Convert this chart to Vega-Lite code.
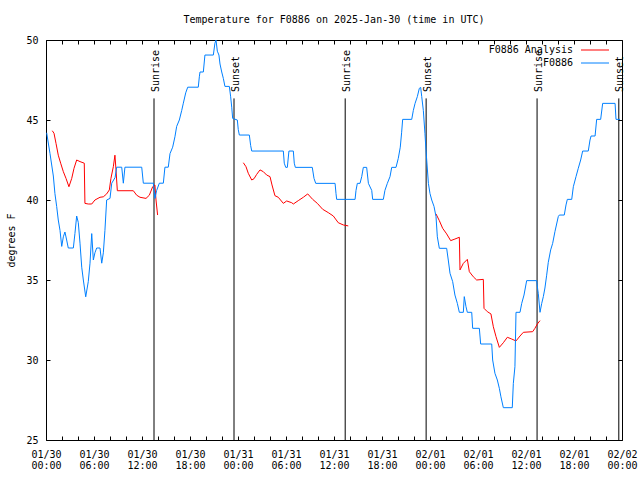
{
 "$schema": "https://vega.github.io/schema/vega-lite/v6.json",
 "width": 576,
 "height": 400,
 "autosize": {"type": "none"},
 "padding": {"left": 46, "top": 40, "right": 18, "bottom": 40},
 "background": "white",
 "title": {"text": "Temperature for F0886 on 2025-Jan-30 (time in UTC)", "font": "DejaVu Sans Mono", "fontSize": 10, "fontWeight": "normal", "color": "black", "anchor": "middle", "baseline": "bottom", "offset": 0},
 "config": {
  "view": {"stroke": "black", "strokeWidth": 1},
  "font": "DejaVu Sans Mono",
  "axis": {"labelFont": "DejaVu Sans Mono", "labelFontSize": 10, "labelColor": "black", "titleFont": "DejaVu Sans Mono", "titleFontSize": 10, "titleFontWeight": "normal", "titleColor": "black", "tickColor": "black", "grid": false, "domain": false}
 },
 "datasets": {
  "sun": [
   {"time": "2025-01-30T13:30:00Z", "event": "Sunrise"},
   {"time": "2025-01-30T23:30:00Z", "event": "Sunset"},
   {"time": "2025-01-31T13:24:00Z", "event": "Sunrise"},
   {"time": "2025-01-31T23:31:00Z", "event": "Sunset"},
   {"time": "2025-02-01T13:23:00Z", "event": "Sunrise"},
   {"time": "2025-02-01T23:36:00Z", "event": "Sunset"}
  ],
  "temps": [
   {"series": "F0886 Analysis", "seg": "a1", "time": "2025-01-30T00:47:00Z", "temp": 44.33},
   {"series": "F0886 Analysis", "seg": "a1", "time": "2025-01-30T01:00:00Z", "temp": 44.17},
   {"series": "F0886 Analysis", "seg": "a1", "time": "2025-01-30T01:15:00Z", "temp": 43.54},
   {"series": "F0886 Analysis", "seg": "a1", "time": "2025-01-30T01:32:00Z", "temp": 42.8},
   {"series": "F0886 Analysis", "seg": "a1", "time": "2025-01-30T01:50:00Z", "temp": 42.3},
   {"series": "F0886 Analysis", "seg": "a1", "time": "2025-01-30T02:10:00Z", "temp": 41.77},
   {"series": "F0886 Analysis", "seg": "a1", "time": "2025-01-30T02:30:00Z", "temp": 41.35},
   {"series": "F0886 Analysis", "seg": "a1", "time": "2025-01-30T02:52:00Z", "temp": 40.83},
   {"series": "F0886 Analysis", "seg": "a1", "time": "2025-01-30T03:13:00Z", "temp": 41.35},
   {"series": "F0886 Analysis", "seg": "a1", "time": "2025-01-30T03:30:00Z", "temp": 41.98},
   {"series": "F0886 Analysis", "seg": "a1", "time": "2025-01-30T03:50:00Z", "temp": 42.5},
   {"series": "F0886 Analysis", "seg": "a1", "time": "2025-01-30T04:15:00Z", "temp": 42.4},
   {"series": "F0886 Analysis", "seg": "a1", "time": "2025-01-30T04:47:00Z", "temp": 42.3},
   {"series": "F0886 Analysis", "seg": "a1", "time": "2025-01-30T04:52:00Z", "temp": 39.79},
   {"series": "F0886 Analysis", "seg": "a1", "time": "2025-01-30T05:17:00Z", "temp": 39.75},
   {"series": "F0886 Analysis", "seg": "a1", "time": "2025-01-30T05:43:00Z", "temp": 39.75},
   {"series": "F0886 Analysis", "seg": "a1", "time": "2025-01-30T06:07:00Z", "temp": 40.0},
   {"series": "F0886 Analysis", "seg": "a1", "time": "2025-01-30T06:45:00Z", "temp": 40.17},
   {"series": "F0886 Analysis", "seg": "a1", "time": "2025-01-30T07:10:00Z", "temp": 40.2},
   {"series": "F0886 Analysis", "seg": "a1", "time": "2025-01-30T07:35:00Z", "temp": 40.38},
   {"series": "F0886 Analysis", "seg": "a1", "time": "2025-01-30T07:55:00Z", "temp": 40.63},
   {"series": "F0886 Analysis", "seg": "a1", "time": "2025-01-30T08:07:00Z", "temp": 41.35},
   {"series": "F0886 Analysis", "seg": "a1", "time": "2025-01-30T08:25:00Z", "temp": 42.08},
   {"series": "F0886 Analysis", "seg": "a1", "time": "2025-01-30T08:37:00Z", "temp": 42.8},
   {"series": "F0886 Analysis", "seg": "a1", "time": "2025-01-30T08:45:00Z", "temp": 41.88},
   {"series": "F0886 Analysis", "seg": "a1", "time": "2025-01-30T08:55:00Z", "temp": 40.58},
   {"series": "F0886 Analysis", "seg": "a1", "time": "2025-01-30T10:55:00Z", "temp": 40.58},
   {"series": "F0886 Analysis", "seg": "a1", "time": "2025-01-30T11:20:00Z", "temp": 40.3},
   {"series": "F0886 Analysis", "seg": "a1", "time": "2025-01-30T11:45:00Z", "temp": 40.17},
   {"series": "F0886 Analysis", "seg": "a1", "time": "2025-01-30T12:30:00Z", "temp": 40.1},
   {"series": "F0886 Analysis", "seg": "a1", "time": "2025-01-30T12:55:00Z", "temp": 40.3},
   {"series": "F0886 Analysis", "seg": "a1", "time": "2025-01-30T13:20:00Z", "temp": 40.83},
   {"series": "F0886 Analysis", "seg": "a1", "time": "2025-01-30T13:37:00Z", "temp": 40.94},
   {"series": "F0886 Analysis", "seg": "a1", "time": "2025-01-30T13:45:00Z", "temp": 40.0},
   {"series": "F0886 Analysis", "seg": "a1", "time": "2025-01-30T13:57:00Z", "temp": 39.06},
   {"series": "F0886 Analysis", "seg": "a2", "time": "2025-01-31T00:40:00Z", "temp": 42.33},
   {"series": "F0886 Analysis", "seg": "a2", "time": "2025-01-31T01:00:00Z", "temp": 42.08},
   {"series": "F0886 Analysis", "seg": "a2", "time": "2025-01-31T01:17:00Z", "temp": 41.67},
   {"series": "F0886 Analysis", "seg": "a2", "time": "2025-01-31T01:43:00Z", "temp": 41.25},
   {"series": "F0886 Analysis", "seg": "a2", "time": "2025-01-31T02:00:00Z", "temp": 41.33},
   {"series": "F0886 Analysis", "seg": "a2", "time": "2025-01-31T02:20:00Z", "temp": 41.6},
   {"series": "F0886 Analysis", "seg": "a2", "time": "2025-01-31T02:45:00Z", "temp": 41.88},
   {"series": "F0886 Analysis", "seg": "a2", "time": "2025-01-31T03:10:00Z", "temp": 41.77},
   {"series": "F0886 Analysis", "seg": "a2", "time": "2025-01-31T03:35:00Z", "temp": 41.56},
   {"series": "F0886 Analysis", "seg": "a2", "time": "2025-01-31T04:00:00Z", "temp": 41.46},
   {"series": "F0886 Analysis", "seg": "a2", "time": "2025-01-31T04:15:00Z", "temp": 40.94},
   {"series": "F0886 Analysis", "seg": "a2", "time": "2025-01-31T04:37:00Z", "temp": 40.27},
   {"series": "F0886 Analysis", "seg": "a2", "time": "2025-01-31T05:02:00Z", "temp": 40.17},
   {"series": "F0886 Analysis", "seg": "a2", "time": "2025-01-31T05:40:00Z", "temp": 39.79},
   {"series": "F0886 Analysis", "seg": "a2", "time": "2025-01-31T06:05:00Z", "temp": 39.94},
   {"series": "F0886 Analysis", "seg": "a2", "time": "2025-01-31T06:43:00Z", "temp": 39.83},
   {"series": "F0886 Analysis", "seg": "a2", "time": "2025-01-31T06:55:00Z", "temp": 39.75},
   {"series": "F0886 Analysis", "seg": "a2", "time": "2025-01-31T07:32:00Z", "temp": 39.96},
   {"series": "F0886 Analysis", "seg": "a2", "time": "2025-01-31T08:10:00Z", "temp": 40.17},
   {"series": "F0886 Analysis", "seg": "a2", "time": "2025-01-31T08:43:00Z", "temp": 40.38},
   {"series": "F0886 Analysis", "seg": "a2", "time": "2025-01-31T09:20:00Z", "temp": 40.04},
   {"series": "F0886 Analysis", "seg": "a2", "time": "2025-01-31T09:55:00Z", "temp": 39.79},
   {"series": "F0886 Analysis", "seg": "a2", "time": "2025-01-31T10:35:00Z", "temp": 39.42},
   {"series": "F0886 Analysis", "seg": "a2", "time": "2025-01-31T11:17:00Z", "temp": 39.21},
   {"series": "F0886 Analysis", "seg": "a2", "time": "2025-01-31T11:55:00Z", "temp": 39.0},
   {"series": "F0886 Analysis", "seg": "a2", "time": "2025-01-31T12:32:00Z", "temp": 38.58},
   {"series": "F0886 Analysis", "seg": "a2", "time": "2025-01-31T13:10:00Z", "temp": 38.44},
   {"series": "F0886 Analysis", "seg": "a2", "time": "2025-01-31T13:47:00Z", "temp": 38.38},
   {"series": "F0886 Analysis", "seg": "a3", "time": "2025-02-01T00:45:00Z", "temp": 39.13},
   {"series": "F0886 Analysis", "seg": "a3", "time": "2025-02-01T01:10:00Z", "temp": 38.71},
   {"series": "F0886 Analysis", "seg": "a3", "time": "2025-02-01T01:35:00Z", "temp": 38.23},
   {"series": "F0886 Analysis", "seg": "a3", "time": "2025-02-01T02:05:00Z", "temp": 37.88},
   {"series": "F0886 Analysis", "seg": "a3", "time": "2025-02-01T02:35:00Z", "temp": 37.46},
   {"series": "F0886 Analysis", "seg": "a3", "time": "2025-02-01T03:07:00Z", "temp": 37.56},
   {"series": "F0886 Analysis", "seg": "a3", "time": "2025-02-01T03:40:00Z", "temp": 37.67},
   {"series": "F0886 Analysis", "seg": "a3", "time": "2025-02-01T03:45:00Z", "temp": 35.63},
   {"series": "F0886 Analysis", "seg": "a3", "time": "2025-02-01T04:10:00Z", "temp": 36.04},
   {"series": "F0886 Analysis", "seg": "a3", "time": "2025-02-01T04:40:00Z", "temp": 36.29},
   {"series": "F0886 Analysis", "seg": "a3", "time": "2025-02-01T04:55:00Z", "temp": 35.52},
   {"series": "F0886 Analysis", "seg": "a3", "time": "2025-02-01T05:25:00Z", "temp": 35.2},
   {"series": "F0886 Analysis", "seg": "a3", "time": "2025-02-01T05:50:00Z", "temp": 35.0},
   {"series": "F0886 Analysis", "seg": "a3", "time": "2025-02-01T06:40:00Z", "temp": 35.04},
   {"series": "F0886 Analysis", "seg": "a3", "time": "2025-02-01T06:45:00Z", "temp": 33.23},
   {"series": "F0886 Analysis", "seg": "a3", "time": "2025-02-01T07:10:00Z", "temp": 33.02},
   {"series": "F0886 Analysis", "seg": "a3", "time": "2025-02-01T07:37:00Z", "temp": 32.88},
   {"series": "F0886 Analysis", "seg": "a3", "time": "2025-02-01T07:55:00Z", "temp": 32.08},
   {"series": "F0886 Analysis", "seg": "a3", "time": "2025-02-01T08:15:00Z", "temp": 31.46},
   {"series": "F0886 Analysis", "seg": "a3", "time": "2025-02-01T08:40:00Z", "temp": 30.79},
   {"series": "F0886 Analysis", "seg": "a3", "time": "2025-02-01T09:10:00Z", "temp": 31.08},
   {"series": "F0886 Analysis", "seg": "a3", "time": "2025-02-01T09:40:00Z", "temp": 31.42},
   {"series": "F0886 Analysis", "seg": "a3", "time": "2025-02-01T10:13:00Z", "temp": 31.31},
   {"series": "F0886 Analysis", "seg": "a3", "time": "2025-02-01T10:45:00Z", "temp": 31.19},
   {"series": "F0886 Analysis", "seg": "a3", "time": "2025-02-01T11:15:00Z", "temp": 31.5},
   {"series": "F0886 Analysis", "seg": "a3", "time": "2025-02-01T11:40:00Z", "temp": 31.73},
   {"series": "F0886 Analysis", "seg": "a3", "time": "2025-02-01T12:50:00Z", "temp": 31.77},
   {"series": "F0886 Analysis", "seg": "a3", "time": "2025-02-01T13:07:00Z", "temp": 31.98},
   {"series": "F0886 Analysis", "seg": "a3", "time": "2025-02-01T13:25:00Z", "temp": 32.25},
   {"series": "F0886 Analysis", "seg": "a3", "time": "2025-02-01T13:45:00Z", "temp": 32.46},
   {"series": "F0886", "seg": "b", "time": "2025-01-30T00:05:00Z", "temp": 44.2},
   {"series": "F0886", "seg": "b", "time": "2025-01-30T00:30:00Z", "temp": 42.9},
   {"series": "F0886", "seg": "b", "time": "2025-01-30T00:55:00Z", "temp": 41.5},
   {"series": "F0886", "seg": "b", "time": "2025-01-30T01:07:00Z", "temp": 40.4},
   {"series": "F0886", "seg": "b", "time": "2025-01-30T01:20:00Z", "temp": 39.6},
   {"series": "F0886", "seg": "b", "time": "2025-01-30T01:32:00Z", "temp": 38.75},
   {"series": "F0886", "seg": "b", "time": "2025-01-30T01:45:00Z", "temp": 38.1},
   {"series": "F0886", "seg": "b", "time": "2025-01-30T01:58:00Z", "temp": 37.1},
   {"series": "F0886", "seg": "b", "time": "2025-01-30T02:10:00Z", "temp": 37.7},
   {"series": "F0886", "seg": "b", "time": "2025-01-30T02:22:00Z", "temp": 38.0},
   {"series": "F0886", "seg": "b", "time": "2025-01-30T02:35:00Z", "temp": 37.5},
   {"series": "F0886", "seg": "b", "time": "2025-01-30T02:47:00Z", "temp": 37.0},
   {"series": "F0886", "seg": "b", "time": "2025-01-30T03:25:00Z", "temp": 37.0},
   {"series": "F0886", "seg": "b", "time": "2025-01-30T03:37:00Z", "temp": 37.9},
   {"series": "F0886", "seg": "b", "time": "2025-01-30T03:50:00Z", "temp": 39.0},
   {"series": "F0886", "seg": "b", "time": "2025-01-30T04:02:00Z", "temp": 38.6},
   {"series": "F0886", "seg": "b", "time": "2025-01-30T04:15:00Z", "temp": 37.3},
   {"series": "F0886", "seg": "b", "time": "2025-01-30T04:28:00Z", "temp": 35.8},
   {"series": "F0886", "seg": "b", "time": "2025-01-30T04:40:00Z", "temp": 35.0},
   {"series": "F0886", "seg": "b", "time": "2025-01-30T04:58:00Z", "temp": 33.95},
   {"series": "F0886", "seg": "b", "time": "2025-01-30T05:17:00Z", "temp": 34.9},
   {"series": "F0886", "seg": "b", "time": "2025-01-30T05:30:00Z", "temp": 36.05},
   {"series": "F0886", "seg": "b", "time": "2025-01-30T05:43:00Z", "temp": 37.9},
   {"series": "F0886", "seg": "b", "time": "2025-01-30T05:55:00Z", "temp": 36.25},
   {"series": "F0886", "seg": "b", "time": "2025-01-30T06:07:00Z", "temp": 36.7},
   {"series": "F0886", "seg": "b", "time": "2025-01-30T06:20:00Z", "temp": 37.0},
   {"series": "F0886", "seg": "b", "time": "2025-01-30T06:45:00Z", "temp": 37.0},
   {"series": "F0886", "seg": "b", "time": "2025-01-30T06:58:00Z", "temp": 36.05},
   {"series": "F0886", "seg": "b", "time": "2025-01-30T07:10:00Z", "temp": 36.7},
   {"series": "F0886", "seg": "b", "time": "2025-01-30T07:22:00Z", "temp": 38.1},
   {"series": "F0886", "seg": "b", "time": "2025-01-30T07:35:00Z", "temp": 40.0},
   {"series": "F0886", "seg": "b", "time": "2025-01-30T08:00:00Z", "temp": 40.1},
   {"series": "F0886", "seg": "b", "time": "2025-01-30T08:13:00Z", "temp": 41.05},
   {"series": "F0886", "seg": "b", "time": "2025-01-30T08:38:00Z", "temp": 41.4},
   {"series": "F0886", "seg": "b", "time": "2025-01-30T08:50:00Z", "temp": 42.05},
   {"series": "F0886", "seg": "b", "time": "2025-01-30T09:28:00Z", "temp": 42.05},
   {"series": "F0886", "seg": "b", "time": "2025-01-30T09:40:00Z", "temp": 41.05},
   {"series": "F0886", "seg": "b", "time": "2025-01-30T09:52:00Z", "temp": 42.05},
   {"series": "F0886", "seg": "b", "time": "2025-01-30T11:58:00Z", "temp": 42.05},
   {"series": "F0886", "seg": "b", "time": "2025-01-30T12:10:00Z", "temp": 41.05},
   {"series": "F0886", "seg": "b", "time": "2025-01-30T13:25:00Z", "temp": 41.05},
   {"series": "F0886", "seg": "b", "time": "2025-01-30T13:37:00Z", "temp": 40.1},
   {"series": "F0886", "seg": "b", "time": "2025-01-30T13:50:00Z", "temp": 40.6},
   {"series": "F0886", "seg": "b", "time": "2025-01-30T14:10:00Z", "temp": 41.05},
   {"series": "F0886", "seg": "b", "time": "2025-01-30T14:40:00Z", "temp": 41.05},
   {"series": "F0886", "seg": "b", "time": "2025-01-30T14:52:00Z", "temp": 42.05},
   {"series": "F0886", "seg": "b", "time": "2025-01-30T15:17:00Z", "temp": 42.05},
   {"series": "F0886", "seg": "b", "time": "2025-01-30T15:30:00Z", "temp": 42.9},
   {"series": "F0886", "seg": "b", "time": "2025-01-30T15:50:00Z", "temp": 43.3},
   {"series": "F0886", "seg": "b", "time": "2025-01-30T16:07:00Z", "temp": 43.95},
   {"series": "F0886", "seg": "b", "time": "2025-01-30T16:20:00Z", "temp": 44.6},
   {"series": "F0886", "seg": "b", "time": "2025-01-30T16:40:00Z", "temp": 45.0},
   {"series": "F0886", "seg": "b", "time": "2025-01-30T16:58:00Z", "temp": 45.6},
   {"series": "F0886", "seg": "b", "time": "2025-01-30T17:10:00Z", "temp": 46.05},
   {"series": "F0886", "seg": "b", "time": "2025-01-30T17:28:00Z", "temp": 46.7},
   {"series": "F0886", "seg": "b", "time": "2025-01-30T17:43:00Z", "temp": 47.05},
   {"series": "F0886", "seg": "b", "time": "2025-01-30T19:02:00Z", "temp": 47.05},
   {"series": "F0886", "seg": "b", "time": "2025-01-30T19:10:00Z", "temp": 47.7},
   {"series": "F0886", "seg": "b", "time": "2025-01-30T19:15:00Z", "temp": 48.0},
   {"series": "F0886", "seg": "b", "time": "2025-01-30T19:40:00Z", "temp": 48.0},
   {"series": "F0886", "seg": "b", "time": "2025-01-30T19:52:00Z", "temp": 49.06},
   {"series": "F0886", "seg": "b", "time": "2025-01-30T20:55:00Z", "temp": 49.06},
   {"series": "F0886", "seg": "b", "time": "2025-01-30T21:07:00Z", "temp": 49.8},
   {"series": "F0886", "seg": "b", "time": "2025-01-30T21:15:00Z", "temp": 50.0},
   {"series": "F0886", "seg": "b", "time": "2025-01-30T21:25:00Z", "temp": 49.3},
   {"series": "F0886", "seg": "b", "time": "2025-01-30T21:37:00Z", "temp": 49.06},
   {"series": "F0886", "seg": "b", "time": "2025-01-30T21:45:00Z", "temp": 48.5},
   {"series": "F0886", "seg": "b", "time": "2025-01-30T21:58:00Z", "temp": 48.0},
   {"series": "F0886", "seg": "b", "time": "2025-01-30T22:10:00Z", "temp": 47.6},
   {"series": "F0886", "seg": "b", "time": "2025-01-30T22:22:00Z", "temp": 47.1},
   {"series": "F0886", "seg": "b", "time": "2025-01-30T22:55:00Z", "temp": 47.1},
   {"series": "F0886", "seg": "b", "time": "2025-01-30T23:05:00Z", "temp": 46.45},
   {"series": "F0886", "seg": "b", "time": "2025-01-30T23:13:00Z", "temp": 45.8},
   {"series": "F0886", "seg": "b", "time": "2025-01-30T23:20:00Z", "temp": 45.1},
   {"series": "F0886", "seg": "b", "time": "2025-01-30T23:55:00Z", "temp": 45.0},
   {"series": "F0886", "seg": "b", "time": "2025-01-31T00:02:00Z", "temp": 44.4},
   {"series": "F0886", "seg": "b", "time": "2025-01-31T00:10:00Z", "temp": 44.06},
   {"series": "F0886", "seg": "b", "time": "2025-01-31T01:25:00Z", "temp": 44.06},
   {"series": "F0886", "seg": "b", "time": "2025-01-31T01:35:00Z", "temp": 43.4},
   {"series": "F0886", "seg": "b", "time": "2025-01-31T01:43:00Z", "temp": 43.06},
   {"series": "F0886", "seg": "b", "time": "2025-01-31T05:40:00Z", "temp": 43.06},
   {"series": "F0886", "seg": "b", "time": "2025-01-31T05:47:00Z", "temp": 42.3},
   {"series": "F0886", "seg": "b", "time": "2025-01-31T05:58:00Z", "temp": 42.04},
   {"series": "F0886", "seg": "b", "time": "2025-01-31T06:10:00Z", "temp": 42.04},
   {"series": "F0886", "seg": "b", "time": "2025-01-31T06:22:00Z", "temp": 43.06},
   {"series": "F0886", "seg": "b", "time": "2025-01-31T06:55:00Z", "temp": 43.06},
   {"series": "F0886", "seg": "b", "time": "2025-01-31T07:02:00Z", "temp": 42.3},
   {"series": "F0886", "seg": "b", "time": "2025-01-31T07:10:00Z", "temp": 42.04},
   {"series": "F0886", "seg": "b", "time": "2025-01-31T09:17:00Z", "temp": 42.04},
   {"series": "F0886", "seg": "b", "time": "2025-01-31T09:30:00Z", "temp": 41.35},
   {"series": "F0886", "seg": "b", "time": "2025-01-31T09:43:00Z", "temp": 41.04},
   {"series": "F0886", "seg": "b", "time": "2025-01-31T12:08:00Z", "temp": 41.04},
   {"series": "F0886", "seg": "b", "time": "2025-01-31T12:15:00Z", "temp": 40.4},
   {"series": "F0886", "seg": "b", "time": "2025-01-31T12:20:00Z", "temp": 40.04},
   {"series": "F0886", "seg": "b", "time": "2025-01-31T14:38:00Z", "temp": 40.04},
   {"series": "F0886", "seg": "b", "time": "2025-01-31T14:45:00Z", "temp": 40.6},
   {"series": "F0886", "seg": "b", "time": "2025-01-31T14:55:00Z", "temp": 41.04},
   {"series": "F0886", "seg": "b", "time": "2025-01-31T15:15:00Z", "temp": 41.04},
   {"series": "F0886", "seg": "b", "time": "2025-01-31T15:28:00Z", "temp": 41.46},
   {"series": "F0886", "seg": "b", "time": "2025-01-31T15:40:00Z", "temp": 42.04},
   {"series": "F0886", "seg": "b", "time": "2025-01-31T16:05:00Z", "temp": 42.04},
   {"series": "F0886", "seg": "b", "time": "2025-01-31T16:18:00Z", "temp": 41.04},
   {"series": "F0886", "seg": "b", "time": "2025-01-31T16:43:00Z", "temp": 40.6},
   {"series": "F0886", "seg": "b", "time": "2025-01-31T16:50:00Z", "temp": 40.04},
   {"series": "F0886", "seg": "b", "time": "2025-01-31T18:10:00Z", "temp": 40.04},
   {"series": "F0886", "seg": "b", "time": "2025-01-31T18:22:00Z", "temp": 40.6},
   {"series": "F0886", "seg": "b", "time": "2025-01-31T18:40:00Z", "temp": 41.04},
   {"series": "F0886", "seg": "b", "time": "2025-01-31T19:00:00Z", "temp": 41.46},
   {"series": "F0886", "seg": "b", "time": "2025-01-31T19:13:00Z", "temp": 42.04},
   {"series": "F0886", "seg": "b", "time": "2025-01-31T19:45:00Z", "temp": 42.04},
   {"series": "F0886", "seg": "b", "time": "2025-01-31T20:02:00Z", "temp": 42.6},
   {"series": "F0886", "seg": "b", "time": "2025-01-31T20:17:00Z", "temp": 43.3},
   {"series": "F0886", "seg": "b", "time": "2025-01-31T20:27:00Z", "temp": 44.2},
   {"series": "F0886", "seg": "b", "time": "2025-01-31T20:35:00Z", "temp": 45.04},
   {"series": "F0886", "seg": "b", "time": "2025-01-31T21:43:00Z", "temp": 45.04},
   {"series": "F0886", "seg": "b", "time": "2025-01-31T21:55:00Z", "temp": 45.6},
   {"series": "F0886", "seg": "b", "time": "2025-01-31T22:08:00Z", "temp": 46.04},
   {"series": "F0886", "seg": "b", "time": "2025-01-31T22:25:00Z", "temp": 46.46},
   {"series": "F0886", "seg": "b", "time": "2025-01-31T22:40:00Z", "temp": 46.98},
   {"series": "F0886", "seg": "b", "time": "2025-01-31T22:50:00Z", "temp": 47.04},
   {"series": "F0886", "seg": "b", "time": "2025-01-31T22:58:00Z", "temp": 46.46},
   {"series": "F0886", "seg": "b", "time": "2025-01-31T23:10:00Z", "temp": 45.6},
   {"series": "F0886", "seg": "b", "time": "2025-01-31T23:22:00Z", "temp": 44.17},
   {"series": "F0886", "seg": "b", "time": "2025-01-31T23:30:00Z", "temp": 43.1},
   {"series": "F0886", "seg": "b", "time": "2025-01-31T23:48:00Z", "temp": 41.04},
   {"series": "F0886", "seg": "b", "time": "2025-02-01T00:00:00Z", "temp": 40.4},
   {"series": "F0886", "seg": "b", "time": "2025-02-01T00:13:00Z", "temp": 40.0},
   {"series": "F0886", "seg": "b", "time": "2025-02-01T00:30:00Z", "temp": 39.6},
   {"series": "F0886", "seg": "b", "time": "2025-02-01T00:45:00Z", "temp": 38.96},
   {"series": "F0886", "seg": "b", "time": "2025-02-01T00:55:00Z", "temp": 37.7},
   {"series": "F0886", "seg": "b", "time": "2025-02-01T01:10:00Z", "temp": 36.98},
   {"series": "F0886", "seg": "b", "time": "2025-02-01T02:05:00Z", "temp": 36.98},
   {"series": "F0886", "seg": "b", "time": "2025-02-01T02:17:00Z", "temp": 36.25},
   {"series": "F0886", "seg": "b", "time": "2025-02-01T02:30:00Z", "temp": 35.42},
   {"series": "F0886", "seg": "b", "time": "2025-02-01T02:50:00Z", "temp": 34.9},
   {"series": "F0886", "seg": "b", "time": "2025-02-01T03:07:00Z", "temp": 34.06},
   {"series": "F0886", "seg": "b", "time": "2025-02-01T03:25:00Z", "temp": 33.54},
   {"series": "F0886", "seg": "b", "time": "2025-02-01T03:40:00Z", "temp": 32.98},
   {"series": "F0886", "seg": "b", "time": "2025-02-01T04:10:00Z", "temp": 32.98},
   {"series": "F0886", "seg": "b", "time": "2025-02-01T04:17:00Z", "temp": 33.96},
   {"series": "F0886", "seg": "b", "time": "2025-02-01T04:30:00Z", "temp": 33.33},
   {"series": "F0886", "seg": "b", "time": "2025-02-01T04:40:00Z", "temp": 32.98},
   {"series": "F0886", "seg": "b", "time": "2025-02-01T05:13:00Z", "temp": 32.98},
   {"series": "F0886", "seg": "b", "time": "2025-02-01T05:20:00Z", "temp": 31.98},
   {"series": "F0886", "seg": "b", "time": "2025-02-01T06:10:00Z", "temp": 31.98},
   {"series": "F0886", "seg": "b", "time": "2025-02-01T06:20:00Z", "temp": 31.0},
   {"series": "F0886", "seg": "b", "time": "2025-02-01T07:43:00Z", "temp": 31.0},
   {"series": "F0886", "seg": "b", "time": "2025-02-01T07:50:00Z", "temp": 30.0},
   {"series": "F0886", "seg": "b", "time": "2025-02-01T08:07:00Z", "temp": 29.17},
   {"series": "F0886", "seg": "b", "time": "2025-02-01T08:25:00Z", "temp": 28.75},
   {"series": "F0886", "seg": "b", "time": "2025-02-01T08:40:00Z", "temp": 28.23},
   {"series": "F0886", "seg": "b", "time": "2025-02-01T08:52:00Z", "temp": 27.7},
   {"series": "F0886", "seg": "b", "time": "2025-02-01T09:10:00Z", "temp": 27.02},
   {"series": "F0886", "seg": "b", "time": "2025-02-01T10:17:00Z", "temp": 27.02},
   {"series": "F0886", "seg": "b", "time": "2025-02-01T10:25:00Z", "temp": 28.54},
   {"series": "F0886", "seg": "b", "time": "2025-02-01T10:37:00Z", "temp": 29.58},
   {"series": "F0886", "seg": "b", "time": "2025-02-01T10:45:00Z", "temp": 32.98},
   {"series": "F0886", "seg": "b", "time": "2025-02-01T11:15:00Z", "temp": 32.98},
   {"series": "F0886", "seg": "b", "time": "2025-02-01T11:28:00Z", "temp": 33.54},
   {"series": "F0886", "seg": "b", "time": "2025-02-01T11:45:00Z", "temp": 34.06},
   {"series": "F0886", "seg": "b", "time": "2025-02-01T12:05:00Z", "temp": 34.96},
   {"series": "F0886", "seg": "b", "time": "2025-02-01T13:20:00Z", "temp": 34.96},
   {"series": "F0886", "seg": "b", "time": "2025-02-01T13:28:00Z", "temp": 34.4},
   {"series": "F0886", "seg": "b", "time": "2025-02-01T13:32:00Z", "temp": 34.17},
   {"series": "F0886", "seg": "b", "time": "2025-02-01T13:45:00Z", "temp": 32.98},
   {"series": "F0886", "seg": "b", "time": "2025-02-01T13:58:00Z", "temp": 33.54},
   {"series": "F0886", "seg": "b", "time": "2025-02-01T14:10:00Z", "temp": 33.96},
   {"series": "F0886", "seg": "b", "time": "2025-02-01T14:22:00Z", "temp": 34.5},
   {"series": "F0886", "seg": "b", "time": "2025-02-01T14:35:00Z", "temp": 35.3},
   {"series": "F0886", "seg": "b", "time": "2025-02-01T14:47:00Z", "temp": 36.1},
   {"series": "F0886", "seg": "b", "time": "2025-02-01T15:05:00Z", "temp": 36.88},
   {"series": "F0886", "seg": "b", "time": "2025-02-01T15:20:00Z", "temp": 37.29},
   {"series": "F0886", "seg": "b", "time": "2025-02-01T15:37:00Z", "temp": 38.02},
   {"series": "F0886", "seg": "b", "time": "2025-02-01T16:02:00Z", "temp": 38.96},
   {"series": "F0886", "seg": "b", "time": "2025-02-01T16:10:00Z", "temp": 39.06},
   {"series": "F0886", "seg": "b", "time": "2025-02-01T16:47:00Z", "temp": 39.06},
   {"series": "F0886", "seg": "b", "time": "2025-02-01T17:00:00Z", "temp": 39.69},
   {"series": "F0886", "seg": "b", "time": "2025-02-01T17:10:00Z", "temp": 40.04},
   {"series": "F0886", "seg": "b", "time": "2025-02-01T17:43:00Z", "temp": 40.04},
   {"series": "F0886", "seg": "b", "time": "2025-02-01T17:55:00Z", "temp": 40.83},
   {"series": "F0886", "seg": "b", "time": "2025-02-01T18:15:00Z", "temp": 41.46},
   {"series": "F0886", "seg": "b", "time": "2025-02-01T18:32:00Z", "temp": 41.98},
   {"series": "F0886", "seg": "b", "time": "2025-02-01T18:50:00Z", "temp": 42.5},
   {"series": "F0886", "seg": "b", "time": "2025-02-01T19:05:00Z", "temp": 43.06},
   {"series": "F0886", "seg": "b", "time": "2025-02-01T19:47:00Z", "temp": 43.06},
   {"series": "F0886", "seg": "b", "time": "2025-02-01T20:00:00Z", "temp": 43.75},
   {"series": "F0886", "seg": "b", "time": "2025-02-01T20:08:00Z", "temp": 44.0},
   {"series": "F0886", "seg": "b", "time": "2025-02-01T20:38:00Z", "temp": 44.0},
   {"series": "F0886", "seg": "b", "time": "2025-02-01T20:50:00Z", "temp": 45.04},
   {"series": "F0886", "seg": "b", "time": "2025-02-01T21:20:00Z", "temp": 45.04},
   {"series": "F0886", "seg": "b", "time": "2025-02-01T21:35:00Z", "temp": 46.04},
   {"series": "F0886", "seg": "b", "time": "2025-02-01T23:08:00Z", "temp": 46.04},
   {"series": "F0886", "seg": "b", "time": "2025-02-01T23:15:00Z", "temp": 45.04},
   {"series": "F0886", "seg": "b", "time": "2025-02-01T23:45:00Z", "temp": 45.04}
  ]
 },
 "layer": [
  {
   "data": {"name": "sun"},
   "mark": {"type": "rule", "color": "black", "strokeWidth": 1},
   "encoding": {
    "x": {"field": "time", "type": "temporal",
          "scale": {"type": "utc", "domain": [1738195200000, 1738454400000]},
          "axis": {"orient": "top", "title": null, "labels": false, "tickSize": 4, "offset": -4,
                   "values": [1738195200000, 1738202400000, 1738209600000, 1738216800000, 1738224000000, 1738231200000, 1738238400000, 1738245600000, 1738252800000, 1738260000000, 1738267200000, 1738274400000, 1738281600000, 1738288800000, 1738296000000, 1738303200000, 1738310400000, 1738317600000, 1738324800000, 1738332000000, 1738339200000, 1738346400000, 1738353600000, 1738360800000, 1738368000000, 1738375200000, 1738382400000, 1738389600000, 1738396800000, 1738404000000, 1738411200000, 1738418400000, 1738425600000, 1738432800000, 1738440000000, 1738447200000, 1738454400000]}},
    "y": {"datum": 46.35, "type": "quantitative",
          "scale": {"domain": [25, 50], "nice": false, "zero": false},
          "axis": {"orient": "right", "title": null, "labels": false, "values": [25, 30, 35, 40, 45, 50], "tickSize": 4, "offset": -4}},
    "y2": {"datum": 25}
   }
  },
  {
   "data": {"name": "sun"},
   "mark": {"type": "text", "angle": 270, "align": "left", "baseline": "middle", "font": "DejaVu Sans Mono", "fontSize": 10, "color": "black", "dy": 1.5},
   "encoding": {
    "x": {"field": "time", "type": "temporal", "axis": null,
          "scale": {"type": "utc", "domain": [1738195200000, 1738454400000]}},
    "y": {"datum": 46.75, "type": "quantitative", "axis": null, "scale": {"domain": [25, 50], "nice": false, "zero": false}},
    "text": {"field": "event"}
   }
  },
  {
   "data": {"name": "temps"},
   "mark": {"type": "line", "strokeWidth": 1, "interpolate": "linear"},
   "encoding": {
    "x": {"field": "time", "type": "temporal",
          "scale": {"type": "utc", "domain": [1738195200000, 1738454400000]},
          "axis": {"orient": "bottom", "title": null, "tickSize": 4, "offset": -4, "labelPadding": 9, "labelLineHeight": 11, "labelOverlap": false, "labelFlush": false, "labelBound": false,
                   "values": [1738195200000, 1738202400000, 1738209600000, 1738216800000, 1738224000000, 1738231200000, 1738238400000, 1738245600000, 1738252800000, 1738260000000, 1738267200000, 1738274400000, 1738281600000, 1738288800000, 1738296000000, 1738303200000, 1738310400000, 1738317600000, 1738324800000, 1738332000000, 1738339200000, 1738346400000, 1738353600000, 1738360800000, 1738368000000, 1738375200000, 1738382400000, 1738389600000, 1738396800000, 1738404000000, 1738411200000, 1738418400000, 1738425600000, 1738432800000, 1738440000000, 1738447200000, 1738454400000],
                   "labelExpr": "utchours(datum.value) % 6 == 0 ? [utcFormat(datum.value, '%m/%d'), utcFormat(datum.value, '%H:%M')] : ''"}},
    "y": {"field": "temp", "type": "quantitative",
          "scale": {"domain": [25, 50], "nice": false, "zero": false},
          "axis": {"orient": "left", "title": "degrees F", "values": [25, 30, 35, 40, 45, 50], "tickSize": 4, "offset": -4, "labelPadding": 8, "titlePadding": 9}},
    "color": {"field": "series", "type": "nominal",
              "scale": {"domain": ["F0886 Analysis", "F0886"], "range": ["#ff0000", "#0080ff"]},
              "legend": {"orient": "none", "legendX": 543.5, "legendY": 4.5, "title": null, "symbolType": "M-2.8,0H2.8", "symbolSize": 100, "symbolStrokeWidth": 1, "labelAlign": "right", "labelOffset": -27.5, "rowPadding": 2, "padding": 0, "labelFont": "DejaVu Sans Mono", "labelFontSize": 10, "labelColor": "black"}},
    "detail": {"field": "seg", "type": "nominal"}
   }
  }
 ],
 "resolve": {"axis": {"x": "independent", "y": "independent"}}
}
